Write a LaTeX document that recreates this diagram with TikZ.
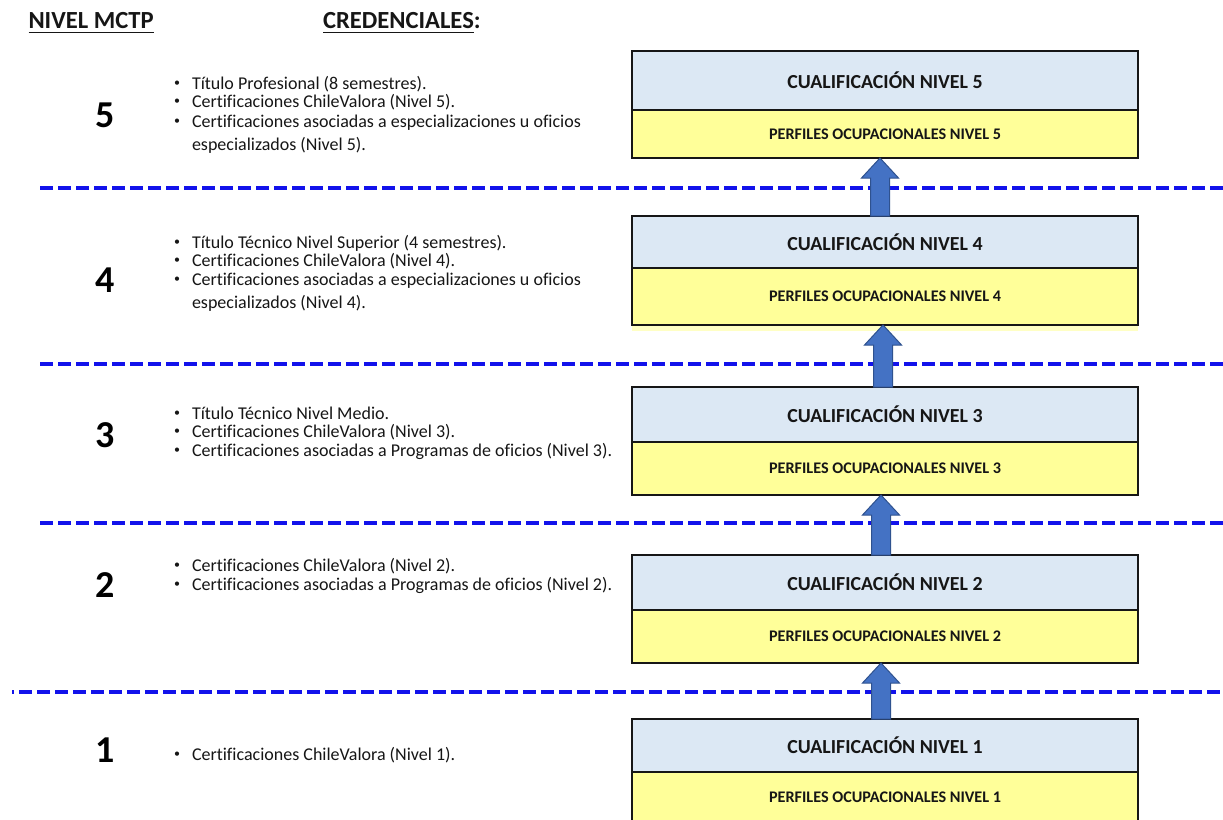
\documentclass[tikz,border=0pt]{standalone}
\usepackage{fontspec}
\setmainfont{Carlito}[Ligatures=NoCommon]
\usetikzlibrary{calc}

\definecolor{qblue}{RGB}{220,232,244}
\definecolor{pyellow}{RGB}{255,255,153}
\definecolor{pstrip}{RGB}{255,255,196}
\definecolor{dashblue}{RGB}{18,18,235}
\definecolor{arrowfill}{RGB}{68,114,196}
\definecolor{arrowedge}{RGB}{47,82,143}
\definecolor{ink}{RGB}{22,22,22}

% small raised bullet in front of each credential line
\newcommand\bul{\makebox[18pt][l]{\raisebox{3pt}{\fontsize{12}{12}\selectfont •}}}
% one credential line, placed by its baseline
\newcommand\credline[4]{\node[cred] (#1) at (#2,#3) {#4};}
% upward block arrow from the top of one box to the bottom of the next
\newcommand\blockup[3]{%
  \draw[blockarrow] let \p1=(#1.north), \p2=(#2.south), \p3=(#3,0) in
    (\x3-9.5pt,\y1) -- (\x3-9.5pt,\y2-20pt) -- (\x3-18.5pt,\y2-20pt) --
    (\x3,\y2) -- (\x3+18.5pt,\y2-20pt) -- (\x3+9.5pt,\y2-20pt) --
    (\x3+9.5pt,\y1) -- cycle;}

\begin{document}
\begin{tikzpicture}[x=1pt,y=-1pt,
  header/.style={anchor=base west, inner sep=0, outer sep=0, text=ink,
    font=\bfseries\fontsize{24.6}{25}\selectfont},
  uline/.style={draw=ink, line width=1.4pt},
  levelnum/.style={anchor=base, inner sep=0, text=black,
    font=\bfseries\fontsize{38}{40}\selectfont},
  cred/.style={anchor=base west, inner sep=0, outer sep=0, text=ink,
    font=\fontsize{18}{18}\selectfont},
  sep/.style={draw=dashblue, line width=3.6pt, dash pattern=on 13pt off 5pt},
  qbox/.style={draw=ink, line width=1.2pt, fill=qblue, minimum width=506pt,
    inner sep=0, outer sep=0, anchor=north west, text=ink,
    font=\bfseries\fontsize{19.9}{20}\selectfont},
  pbox/.style={qbox, fill=pyellow, anchor=north,
    font=\bfseries\fontsize{16.2}{17}\selectfont},
  blockarrow/.style={fill=arrowfill, draw=arrowedge, line width=1pt, line join=miter}]

\clip (0,0) rectangle (1223,819);
\fill[white] (0,0) rectangle (1223,819);

% column headings
\node[header] (hnivel) at (28.5,28.3) {NIVEL MCTP};
\draw[uline] ([yshift=-4pt]hnivel.base west) -- ([yshift=-4pt]hnivel.base east);
\node[header] (hcred) at (323,28.3) {CREDENCIALES};
\node[header, anchor=base west] (hcolon) at (hcred.base east) {:};
\draw[uline] ([yshift=-4pt]hcred.base west) -- ([yshift=-4pt]hcred.base east);

% level separators
\draw[sep] (40,188) -- (1223,188);
\draw[sep] (40,364) -- (1223,364);
\draw[sep] (40,523) -- (1223,523);
\draw[sep, dash phase=11pt] (12,692) -- (1223,692);

% level numbers
\node[levelnum] (n5) at (105,127) {5};
\node[levelnum] (n4) at (105,292) {4};
\node[levelnum] (n3) at (105,447) {3};
\node[levelnum] (n2) at (105,597) {2};
\node[levelnum] (n1) at (105,762) {1};

% credentials per level
\credline{c5a}{174}{89}{\bul Título Profesional (8 semestres).}
\credline{c5b}{174}{107.5}{\bul Certificaciones ChileValora (Nivel 5).}
\credline{c5c}{174}{127}{\bul Certificaciones asociadas a especializaciones u oficios}
\credline{c5d}{192}{150}{especializados (Nivel 5).}

\credline{c4a}{174}{248}{\bul Título Técnico Nivel Superior (4 semestres).}
\credline{c4b}{174}{266}{\bul Certificaciones ChileValora (Nivel 4).}
\credline{c4c}{174}{285}{\bul Certificaciones asociadas a especializaciones u oficios}
\credline{c4d}{192}{308}{especializados (Nivel 4).}

\credline{c3a}{174}{419}{\bul Título Técnico Nivel Medio.}
\credline{c3b}{174}{437.5}{\bul Certificaciones ChileValora (Nivel 3).}
\credline{c3c}{174}{456}{\bul Certificaciones asociadas a Programas de oficios (Nivel 3).}

\credline{c2a}{174}{571}{\bul Certificaciones ChileValora (Nivel 2).}
\credline{c2b}{174}{590}{\bul Certificaciones asociadas a Programas de oficios (Nivel 2).}

\credline{c1a}{174}{760}{\bul Certificaciones ChileValora (Nivel 1).}

% qualification boxes
\node[qbox, minimum height=59pt] (q5) at (632,51) {CUALIFICACIÓN NIVEL 5};
\node[pbox, minimum height=48pt] (p5) at (q5.south) {PERFILES OCUPACIONALES NIVEL 5};

\node[qbox, minimum height=52pt] (q4) at (632,216) {CUALIFICACIÓN NIVEL 4};
\fill[pstrip] (632,325) rectangle (1138,331);
\node[pbox, minimum height=57pt] (p4) at (q4.south) {PERFILES OCUPACIONALES NIVEL 4};

\node[qbox, minimum height=55pt] (q3) at (632,387) {CUALIFICACIÓN NIVEL 3};
\node[pbox, minimum height=53pt] (p3) at (q3.south) {PERFILES OCUPACIONALES NIVEL 3};

\node[qbox, minimum height=55pt] (q2) at (632,555) {CUALIFICACIÓN NIVEL 2};
\node[pbox, minimum height=53pt] (p2) at (q2.south) {PERFILES OCUPACIONALES NIVEL 2};

\node[qbox, minimum height=53pt] (q1) at (632,719) {CUALIFICACIÓN NIVEL 1};
\node[pbox, minimum height=50pt] (p1) at (q1.south) {PERFILES OCUPACIONALES NIVEL 1};

% progression arrows
\blockup{q4}{p5}{880}
\blockup{q3}{p4}{883}
\blockup{q2}{p3}{881}
\blockup{q1}{p2}{881}

\end{tikzpicture}
\end{document}
